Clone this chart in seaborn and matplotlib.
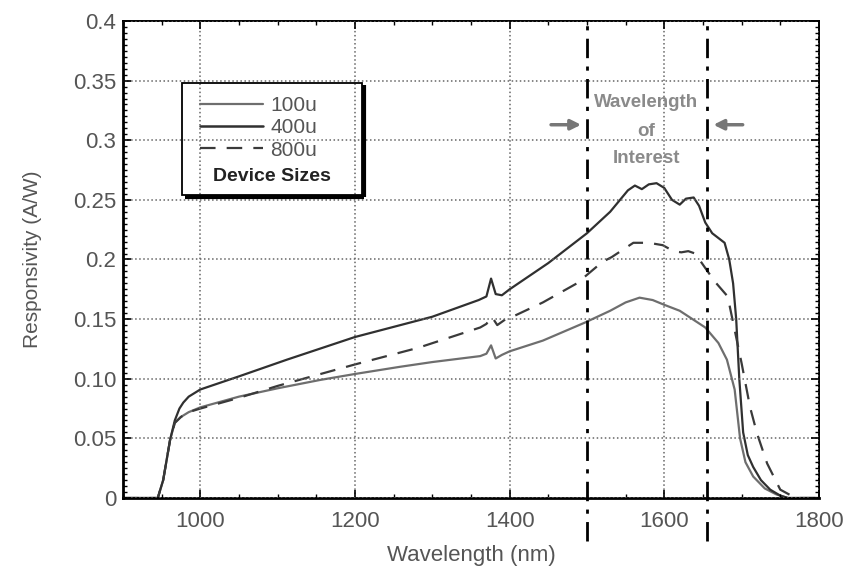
import numpy as np
import pandas as pd
import matplotlib
matplotlib.use("Agg")
import matplotlib.pyplot as plt
import seaborn as sns
from matplotlib.lines import Line2D
from matplotlib.patches import Rectangle
from matplotlib.ticker import MultipleLocator

# --- Data (wavelength in nm, responsivity in A/W) ---
WL_400 = [900, 945, 952, 961, 967, 973, 978, 985, 1000, 1050, 1112, 1200, 1300,
          1360, 1370, 1376, 1382, 1390, 1400, 1450, 1500, 1530, 1553, 1562, 1571,
          1580, 1590, 1600, 1610, 1620, 1628, 1638, 1645, 1653, 1662, 1678, 1684,
          1689, 1693, 1697, 1702, 1708, 1715, 1725, 1737, 1750, 1760, 1800]
R_400 = [0, 0, 0.015, 0.049, 0.065, 0.075, 0.080, 0.085, 0.091, 0.102, 0.116, 0.135, 0.152,
         0.166, 0.169, 0.184, 0.171, 0.170, 0.175, 0.197, 0.222, 0.240, 0.258, 0.262, 0.259,
         0.263, 0.264, 0.260, 0.250, 0.246, 0.251, 0.252, 0.245, 0.231, 0.222, 0.214, 0.200,
         0.180, 0.150, 0.100, 0.055, 0.036, 0.026, 0.015, 0.007, 0.002, 0, 0]

WL_100 = [900, 945, 952, 961, 967, 975, 985, 1000, 1050, 1100, 1155, 1200, 1258, 1300,
          1362, 1370, 1376, 1382, 1390, 1400, 1443, 1497, 1530, 1550, 1568, 1585, 1600,
          1620, 1653, 1670, 1681, 1691, 1698, 1705, 1715, 1730, 1745, 1760, 1800]
R_100 = [0, 0, 0.015, 0.049, 0.063, 0.068, 0.072, 0.076, 0.085, 0.092, 0.099, 0.104, 0.110, 0.114,
         0.119, 0.121, 0.128, 0.117, 0.120, 0.123, 0.132, 0.147, 0.157, 0.164, 0.168, 0.166, 0.162,
         0.157, 0.143, 0.130, 0.116, 0.091, 0.050, 0.030, 0.018, 0.008, 0.003, 0, 0]

WL_800 = [900, 945, 952, 961, 967, 975, 985, 1000, 1050, 1100, 1200, 1282, 1362, 1370,
          1377, 1384, 1395, 1407, 1443, 1487, 1520, 1532, 1560, 1580, 1598, 1612, 1622,
          1631, 1640, 1655, 1666, 1682, 1691, 1700, 1711, 1720, 1733, 1750, 1770, 1800]
R_800 = [0, 0, 0.015, 0.049, 0.063, 0.068, 0.072, 0.075, 0.084, 0.094, 0.112, 0.126, 0.143, 0.146,
         0.152, 0.145, 0.150, 0.153, 0.164, 0.180, 0.198, 0.202, 0.214, 0.214, 0.212, 0.207, 0.206,
         0.207, 0.205, 0.191, 0.181, 0.169, 0.141, 0.113, 0.076, 0.054, 0.029, 0.007, 0, 0]

SERIES_LABELS = ["100u", "400u", "800u"]
INTEREST_BOUNDS = [1500, 1655]
Y_TICKS = [0, 0.05, 0.10, 0.15, 0.2, 0.25, 0.3, 0.35, 0.4]
Y_TICK_LABELS = ["0", "0.05", "0.10", "0.15", "0.2", "0.25", "0.3", "0.35", "0.4"]
X_TICKS = [1000, 1200, 1400, 1600, 1800]

sns.set_style("white")
plt.rcParams["font.family"] = ["Liberation Sans", "DejaVu Sans"]

TEXT_GREY = "#555555"

fig = plt.figure(figsize=(8.44, 5.75), dpi=100)
ax = fig.add_axes([0.1457, 0.1339, 0.8246, 0.8296])

# curves
sns.lineplot(x=WL_100, y=R_100, ax=ax, color="#6e6e6e", lw=1.6, sort=False)
sns.lineplot(x=WL_400, y=R_400, ax=ax, color="#303030", lw=1.6, sort=False)
sns.lineplot(x=WL_800, y=R_800, ax=ax, color="#3a3a3a", lw=1.6, sort=False)
ax.lines[-1].set_dashes((7, 5))

ax.set_xlim(900, 1800)
ax.set_ylim(0, 0.4)
ax.set_xticks(X_TICKS)
ax.set_yticks(Y_TICKS)
ax.set_yticklabels(Y_TICK_LABELS)
ax.xaxis.set_minor_locator(MultipleLocator(50))
ax.yaxis.set_minor_locator(MultipleLocator(0.005))
ax.tick_params(which="both", direction="in", top=True, right=True,
               bottom=True, left=True, colors="black")
ax.tick_params(which="major", length=6, width=1.2, labelsize=16, labelcolor=TEXT_GREY)
ax.tick_params(which="minor", length=3, width=1)
ax.tick_params(axis="x", which="major", pad=9)
ax.tick_params(axis="y", which="major", pad=5)

ax.grid(True, which="major", linestyle=":", color="#666666", lw=1.1)
ax.set_axisbelow(False)

for side, sp in ax.spines.items():
    sp.set_color("black")
    sp.set_linewidth(2.0 if side in ("left", "bottom") else 1.4)

ax.set_xlabel("Wavelength (nm)", fontsize=16, color=TEXT_GREY, labelpad=10)
ax.set_ylabel("Responsivity (A/W)", fontsize=15, color=TEXT_GREY, labelpad=22)

# wavelength of interest markers
for xb in INTEREST_BOUNDS:
    ax.axvline(xb, ymin=-0.09, ymax=1, color="black", lw=2.0,
               dashes=(7, 3, 1.5, 3), clip_on=False, zorder=3)

ax.annotate("", xy=(1496, 0.313), xytext=(1450, 0.313),
            arrowprops=dict(arrowstyle="-|>", color="#777777", lw=2.5, mutation_scale=15))
ax.annotate("", xy=(1660, 0.313), xytext=(1705, 0.313),
            arrowprops=dict(arrowstyle="-|>", color="#777777", lw=2.5, mutation_scale=15))
for txt, yv in [("Wavelength", 0.332), ("of", 0.307), ("Interest", 0.285)]:
    ax.text(1577, yv, txt, ha="center", va="center", fontsize=13.5,
            fontweight="bold", color="#8a8a8a")

# legend box drawn by hand so "Device Sizes" can sit under the entries
box = Rectangle((0.085, 0.635), 0.258, 0.235, transform=ax.transAxes,
                facecolor="none", edgecolor="black", lw=1.3, zorder=4)
ax.add_patch(box)
ax.plot([0.089, 0.347], [0.630, 0.630], transform=ax.transAxes, color="black",
        lw=3, solid_capstyle="butt", zorder=4)
ax.plot([0.346, 0.346], [0.630, 0.866], transform=ax.transAxes, color="black",
        lw=3, solid_capstyle="butt", zorder=4)

handles = [
    Line2D([], [], color="#6e6e6e", lw=1.6),
    Line2D([], [], color="#303030", lw=1.8),
    Line2D([], [], color="#3a3a3a", lw=1.6, dashes=(7, 5)),
]
leg = ax.legend(handles, SERIES_LABELS, loc="upper left",
                bbox_to_anchor=(0.111, 0.842), frameon=False, fontsize=15,
                handlelength=3.0, handletextpad=0.35, labelspacing=0.15,
                borderpad=0, borderaxespad=0)
for t in leg.get_texts():
    t.set_color(TEXT_GREY)
ax.text(0.129, 0.673, "Device Sizes", transform=ax.transAxes, fontsize=14,
        fontweight="bold", color="#222222", va="center", ha="left")

fig.savefig("out.png", dpi=100)
